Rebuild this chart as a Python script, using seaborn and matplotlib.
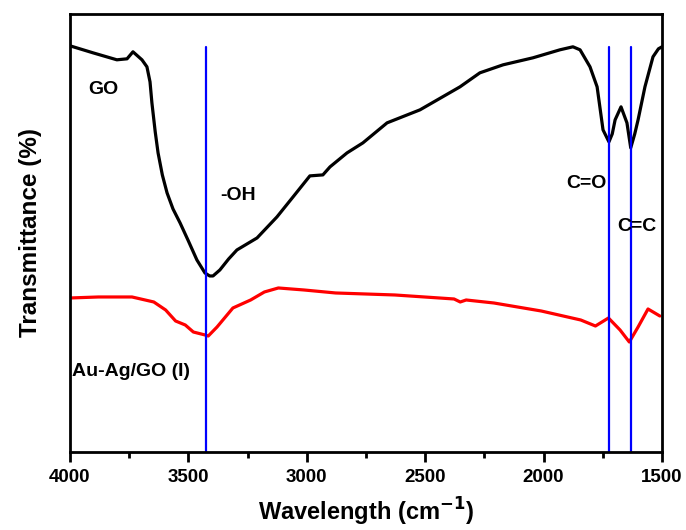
import matplotlib
matplotlib.use('Agg')
import matplotlib.pyplot as plt
import seaborn as sns
import pandas as pd
from matplotlib.ticker import MultipleLocator

# FTIR data (arbitrary transmittance units)
go_wave = [4000, 3903, 3802, 3759, 3734, 3696, 3675, 3662, 3654, 3640, 3628, 3610,
           3590, 3565, 3535, 3500, 3464, 3430, 3410, 3396, 3367, 3330, 3295, 3210,
           3126, 3058, 2987, 2932, 2902, 2830, 2763, 2661, 2522, 2353, 2269, 2171,
           2045, 1931, 1876, 1846, 1804, 1774, 1749, 1724, 1710, 1698, 1673, 1648,
           1632, 1615, 1601, 1572, 1538, 1515, 1500]
go_trans = [406, 399, 392, 393, 400, 392, 385, 370, 349, 320, 299, 277,
            259, 243, 229, 211, 192, 179, 176, 176, 182, 193, 202, 214,
            235, 255, 276, 277, 285, 299, 309, 329, 342, 365, 379, 387,
            394, 402, 405, 402, 385, 365, 322, 310, 318, 332, 345, 329,
            304, 318, 332, 365, 395, 403, 405]

auag_wave = [4000, 3880, 3738, 3646, 3596, 3554, 3513, 3479, 3429, 3416, 3379, 3312,
             3237, 3179, 3120, 3012, 2878, 2628, 2378, 2352, 2327, 2210, 2010, 1843,
             1781, 1726, 1677, 1638, 1601, 1559, 1509]
auag_trans = [154, 155, 155, 150, 142, 131, 127, 120, 117, 116, 125, 144,
              152, 160, 164, 162, 159, 157, 153, 150, 152, 149, 141, 132,
              126, 134, 122, 110, 125, 143, 136]

peak_pos = [3425, 1724, 1632]

sns.set_style('ticks')
plt.rcParams['font.family'] = ['Liberation Sans', 'DejaVu Sans']
plt.rcParams['font.weight'] = 'bold'
plt.rcParams['mathtext.default'] = 'bf'
for k in ['text.color', 'axes.edgecolor', 'axes.labelcolor', 'xtick.color', 'ytick.color']:
    plt.rcParams[k] = 'black'

fig = plt.figure(figsize=(6.86, 5.30), dpi=100)
ax = fig.add_axes([0.102, 0.147, 0.863, 0.827])

df_go = pd.DataFrame({'w': go_wave, 't': go_trans})
df_au = pd.DataFrame({'w': auag_wave, 't': auag_trans})
sns.lineplot(data=df_go, x='w', y='t', sort=False, color='black', lw=2.3, ax=ax)
sns.lineplot(data=df_au, x='w', y='t', sort=False, color='#ff0000', lw=2.3, ax=ax)

ylo, yhi = 0, 438
for p in peak_pos:
    ax.axvline(p, ymin=0, ymax=405 / yhi, color='#0000ff', lw=1.6)

ax.set_xlim(4000, 1500)
ax.set_ylim(ylo, yhi)
ax.xaxis.set_major_locator(MultipleLocator(500))
ax.xaxis.set_minor_locator(MultipleLocator(250))
ax.set_yticks([])
ax.tick_params(axis='x', which='major', length=7, width=2, direction='out',
               labelsize=13.5, pad=5)
ax.tick_params(axis='x', which='minor', length=4, width=2, direction='out')
for lab in ax.get_xticklabels():
    lab.set_fontweight('bold')
for s in ax.spines.values():
    s.set_linewidth(2)
    s.set_visible(True)

ax.set_xlabel('Wavelength (cm$^{-1}$)', fontsize=17, fontweight='bold', labelpad=7)
ax.set_ylabel('Transmittance (%)', fontsize=17.5, fontweight='bold', labelpad=20)

tkw = dict(fontsize=14, fontweight='bold', va='center', ha='left')
ax.text(3924, 362, 'GO', **tkw)
ax.text(3367, 256, '-OH', **tkw)
ax.text(1905, 268, 'C=O', **tkw)
ax.text(1690, 225, 'C=C', **tkw)
ax.text(3990, 81, 'Au-Ag/GO (I)', **tkw)

fig.savefig('out.png', dpi=100)
